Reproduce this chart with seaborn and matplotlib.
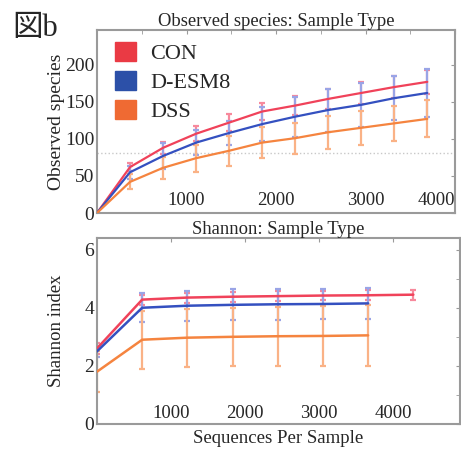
import seaborn as sns
import matplotlib.pyplot as plt
import pandas as pd
from matplotlib.patches import Patch
from matplotlib.ticker import MultipleLocator

# rarefaction values
groups = ['CON', 'D-ESM8', 'DSS']

obs_depth = [0, 369, 738, 1107, 1476, 1845, 2214, 2583, 2952, 3321, 3690]
obs_con = [0, 62, 88, 107, 122, 137, 145, 154, 162, 170, 177]
obs_desm = [0, 55, 77, 95, 108, 120, 130, 139, 146, 155, 162]
obs_dss = [0, 42, 61, 74, 84, 95, 101, 109, 115, 121, 127]
obs_con_sd = [0, 5, 8, 10, 11, 12, 13, 14, 15, 15, 16]
obs_desm_sd = [0, 9, 17, 17, 16, 23, 27, 29, 30, 30, 33]
obs_dss_sd = [0, 10, 15, 18, 20, 21, 21, 22, 23, 24, 25]

sh_depth = [0, 610, 1220, 1830, 2440, 3050, 3660, 4270]
sh_con = [2.6, 4.28, 4.35, 4.38, 4.40, 4.42, 4.43, 4.45]
sh_desm = [2.5, 4.0, 4.07, 4.1, 4.12, 4.13, 4.15]
sh_dss = [1.8, 2.9, 2.97, 3.0, 3.02, 3.03, 3.05]
sh_con_sd = [0.2, 0.17, 0.17, 0.17, 0.17, 0.17, 0.17, 0.17]
sh_desm_sd = [0.2, 0.5, 0.52, 0.53, 0.53, 0.53, 0.52]
sh_dss_sd = [0.7, 1.0, 1.0, 1.0, 1.02, 1.03, 1.05]

line_col = {'CON': '#f0425a', 'D-ESM8': '#3450c0', 'DSS': '#f5843f'}
bar_col = {'CON': '#f7899c', 'D-ESM8': '#9aa4e6', 'DSS': '#fab286'}
patch_col = {'CON': '#ea3a44', 'D-ESM8': '#2c50a8', 'DSS': '#ef6a33'}


def long_df(depth, series):
    rows = []
    for g, vals in zip(groups, series):
        for d, v in zip(depth, vals):
            rows.append({'depth': d, 'value': v, 'group': g})
    return pd.DataFrame(rows)


sns.set_style('white')
plt.rcParams['font.family'] = ['Liberation Serif', 'Noto Sans CJK JP']

fig = plt.figure(figsize=(4.61, 4.55), dpi=100)
W, H = 461, 455
ax1 = fig.add_axes([97 / W, 1 - 213 / H, (455 - 97) / W, (213 - 30) / H])
ax2 = fig.add_axes([97 / W, 1 - 424 / H, (460 - 97) / W, (424 - 238) / H])

# --- observed species ---
top = long_df(obs_depth, [obs_con, obs_desm, obs_dss])
for g, vals, sd in zip(groups, [obs_con, obs_desm, obs_dss],
                       [obs_con_sd, obs_desm_sd, obs_dss_sd]):
    ax1.errorbar(obs_depth, vals, yerr=sd, fmt='none', ecolor=bar_col[g],
                 elinewidth=1.6, capsize=2.5, capthick=1.6, zorder=1)
sns.lineplot(data=top, x='depth', y='value', hue='group', palette=line_col,
             linewidth=1.6, legend=False, ax=ax1, zorder=3)
ax1.axhline(81, color='#c8c8c8', linestyle=':', linewidth=1, zorder=0)
ax1.set_xlim(0, 4000)
ax1.set_ylim(0, 247)
ax1.set_xticks([1000, 2000, 3000, 4000])
ax1.xaxis.set_minor_locator(MultipleLocator(500))
ax1.set_yticks([0, 50, 100, 150, 200])
ax1.set_title('Observed species: Sample Type', fontsize=13.4, pad=3)
ax1.set_ylabel('Observed species', fontsize=14)
ax1.yaxis.set_label_coords(-0.089, 0.5)
ax1.set_xlabel('')

# --- shannon ---
bot = long_df(sh_depth, [sh_con, sh_desm, sh_dss])
for g, vals, sd in zip(groups, [sh_con, sh_desm, sh_dss],
                       [sh_con_sd, sh_desm_sd, sh_dss_sd]):
    ax2.errorbar(sh_depth[:len(vals)], vals, yerr=sd, fmt='none',
                 ecolor=bar_col[g], elinewidth=1.6, capsize=2.5,
                 capthick=1.6, zorder=1)
sns.lineplot(data=bot, x='depth', y='value', hue='group', palette=line_col,
             linewidth=1.8, legend=False, ax=ax2, zorder=3)
ax2.set_xlim(0, 4900)
ax2.set_ylim(0, 6.4)
ax2.set_xticks([1000, 2000, 3000, 4000])
ax2.set_yticks([0, 2, 4, 6])
ax2.yaxis.set_minor_locator(MultipleLocator(1))
ax2.set_title('Shannon: Sample Type', fontsize=13.4, pad=3)
ax2.set_ylabel('Shannon index', fontsize=13.5)
ax2.yaxis.set_label_coords(-0.088, 0.5)
ax2.set_xlabel('Sequences Per Sample', fontsize=13.5, labelpad=4)

for ax in (ax1, ax2):
    for s in ax.spines.values():
        s.set_color('#9a9a9a')
        s.set_linewidth(1.5)
    ax.tick_params(axis='both', which='both', direction='in', length=3,
                   color='#9a9a9a', top=True, right=True)
    ax.tick_params(axis='x', labelsize=13.5, pad=-15)
    ax.tick_params(axis='y', labelsize=14, pad=2)
ax2.tick_params(axis='x', pad=-14)

ax1.get_xticklabels()[-1].set_horizontalalignment('right')

handles = [Patch(facecolor=patch_col[g], edgecolor=patch_col[g]) for g in groups]
ax1.legend(handles, groups, loc='upper left', frameon=False, fontsize=16,
           bbox_to_anchor=(115 / W, 1 - 42 / H), bbox_transform=fig.transFigure,
           borderpad=0, borderaxespad=0, handlelength=0.95, handleheight=0.95,
           handletextpad=0.65, labelspacing=0.3)

fig.text(12 / W, 1 - 28 / H, '図b', fontsize=22, va='center', ha='left')

fig.savefig('out.png', dpi=100)
